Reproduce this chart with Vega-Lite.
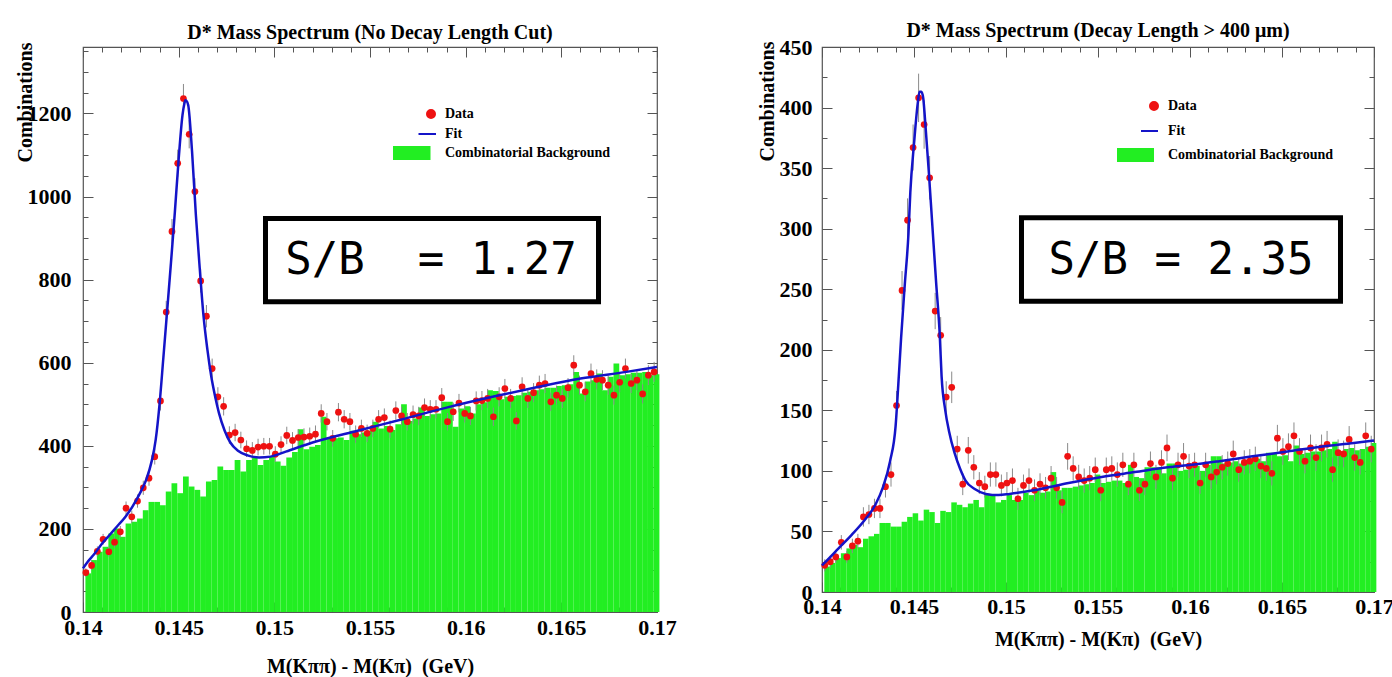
{
  "$schema": "https://vega.github.io/schema/vega-lite/v6.json",
  "background": "white",
  "autosize": {"type": "pad"},
  "padding": {"left": 14, "top": 20, "right": 0, "bottom": 0},
  "spacing": 79,
  "resolve": {"scale": {"color": "independent"}, "legend": {"color": "independent"}},
  "config": {
    "view": {"stroke": "#555555", "strokeWidth": 1.2},
    "axis": {"labelFont": "Liberation Serif", "labelFontWeight": "bold", "labelFontSize": 22, "labelColor": "black", "titleFont": "Liberation Serif", "titleFontWeight": "bold", "titleFontSize": 20, "titleColor": "black", "tickColor": "#555555", "tickWidth": 1, "domain": false, "grid": false, "labelFlush": false, "labelOverlap": false},
    "legend": {"labelFont": "Liberation Serif", "labelFontWeight": "bold", "labelFontSize": 14, "labelColor": "black", "labelLimit": 400},
    "title": {"font": "Liberation Serif", "fontWeight": "bold", "fontSize": 20, "color": "black"}
  },
  "datasets": {
    "left": [
      {"m":0.14015,"d":95,"e":10,"b":93},{"m":0.14045,"d":112,"e":11,"b":125},{"m":0.14075,"d":146,"e":12,"b":145},{"m":0.14105,"d":175,"e":13,"b":157},{"m":0.14135,"d":145,"e":12,"b":189},
      {"m":0.14165,"d":168,"e":13,"b":201},{"m":0.14195,"d":193,"e":14,"b":181},{"m":0.14225,"d":250,"e":16,"b":213},{"m":0.14255,"d":229,"e":15,"b":217},{"m":0.14285,"d":267,"e":16,"b":225},
      {"m":0.14315,"d":299,"e":17,"b":245},{"m":0.14345,"d":322,"e":18,"b":265},{"m":0.14375,"d":374,"e":19,"b":265},{"m":0.14405,"d":508,"e":23,"b":257},{"m":0.14435,"d":722,"e":27,"b":290},
      {"m":0.14465,"d":916,"e":30,"b":310},{"m":0.14495,"d":1080,"e":33,"b":286},{"m":0.14525,"d":1236,"e":35,"b":326},{"m":0.14555,"d":1150,"e":34,"b":302},{"m":0.14585,"d":1012,"e":32,"b":294},
      {"m":0.14615,"d":797,"e":28,"b":278},{"m":0.14645,"d":712,"e":27,"b":314},{"m":0.14675,"d":586,"e":24,"b":318},{"m":0.14705,"d":518,"e":23,"b":350},{"m":0.14735,"d":495,"e":22,"b":342},
      {"m":0.14765,"d":426,"e":21,"b":342},{"m":0.14795,"d":432,"e":21,"b":366},{"m":0.14825,"d":414,"e":20,"b":338},{"m":0.14855,"d":393,"e":20,"b":366},{"m":0.14885,"d":389,"e":20,"b":374},
      {"m":0.14915,"d":397,"e":20,"b":354},{"m":0.14945,"d":399,"e":20,"b":366},{"m":0.14975,"d":399,"e":20,"b":374},{"m":0.15005,"d":380,"e":19,"b":362},{"m":0.15035,"d":403,"e":20,"b":352},
      {"m":0.15065,"d":425,"e":21,"b":372},{"m":0.15095,"d":413,"e":20,"b":385},{"m":0.15125,"d":420,"e":20,"b":440},{"m":0.15155,"d":421,"e":21,"b":392},{"m":0.15185,"d":423,"e":21,"b":398},
      {"m":0.15215,"d":428,"e":21,"b":402},{"m":0.15245,"d":478,"e":22,"b":470},{"m":0.15275,"d":458,"e":21,"b":420},{"m":0.15305,"d":418,"e":20,"b":418},{"m":0.15335,"d":481,"e":22,"b":420},
      {"m":0.15365,"d":464,"e":22,"b":414},{"m":0.15395,"d":458,"e":21,"b":436},{"m":0.15425,"d":428,"e":21,"b":428},{"m":0.15455,"d":442,"e":21,"b":432},{"m":0.15485,"d":430,"e":21,"b":436},
      {"m":0.15515,"d":442,"e":21,"b":458},{"m":0.15545,"d":464,"e":22,"b":442},{"m":0.15575,"d":468,"e":22,"b":448},{"m":0.15605,"d":440,"e":21,"b":438},{"m":0.15635,"d":485,"e":22,"b":452},
      {"m":0.15665,"d":472,"e":22,"b":500},{"m":0.15695,"d":458,"e":21,"b":460},{"m":0.15725,"d":475,"e":22,"b":466},{"m":0.15755,"d":472,"e":22,"b":492},{"m":0.15785,"d":492,"e":22,"b":472},
      {"m":0.15815,"d":488,"e":22,"b":476},{"m":0.15845,"d":488,"e":22,"b":478},{"m":0.15875,"d":516,"e":23,"b":506},{"m":0.15905,"d":458,"e":21,"b":506},{"m":0.15935,"d":482,"e":22,"b":446},
      {"m":0.15965,"d":503,"e":22,"b":490},{"m":0.15995,"d":478,"e":22,"b":495},{"m":0.16025,"d":472,"e":22,"b":478},{"m":0.16055,"d":508,"e":23,"b":500},{"m":0.16085,"d":509,"e":23,"b":505},
      {"m":0.16115,"d":514,"e":23,"b":534},{"m":0.16145,"d":470,"e":22,"b":532},{"m":0.16175,"d":518,"e":23,"b":512},{"m":0.16205,"d":538,"e":23,"b":518},{"m":0.16235,"d":514,"e":23,"b":520},
      {"m":0.16265,"d":460,"e":21,"b":522},{"m":0.16295,"d":542,"e":23,"b":528},{"m":0.16325,"d":514,"e":23,"b":530},{"m":0.16355,"d":528,"e":23,"b":534},{"m":0.16385,"d":546,"e":23,"b":536},
      {"m":0.16415,"d":550,"e":23,"b":540},{"m":0.16445,"d":506,"e":22,"b":540},{"m":0.16475,"d":522,"e":23,"b":544},{"m":0.16505,"d":514,"e":23,"b":546},{"m":0.16535,"d":540,"e":23,"b":548},
      {"m":0.16565,"d":594,"e":24,"b":578},{"m":0.16595,"d":546,"e":23,"b":526},{"m":0.16625,"d":530,"e":23,"b":555},{"m":0.16655,"d":574,"e":24,"b":558},{"m":0.16685,"d":560,"e":24,"b":574},
      {"m":0.16715,"d":558,"e":24,"b":534},{"m":0.16745,"d":546,"e":23,"b":566},{"m":0.16775,"d":522,"e":23,"b":598},{"m":0.16805,"d":553,"e":24,"b":570},{"m":0.16835,"d":586,"e":24,"b":572},
      {"m":0.16865,"d":550,"e":23,"b":576},{"m":0.16895,"d":558,"e":24,"b":576},{"m":0.16925,"d":525,"e":23,"b":578},{"m":0.16955,"d":570,"e":24,"b":570},{"m":0.16985,"d":578,"e":24,"b":572}
    ],
    "leftfit": [
      {"m":0.1400,"f":105},{"m":0.1402,"f":118},{"m":0.1406,"f":140},{"m":0.1410,"f":165},{"m":0.1414,"f":186},{"m":0.1418,"f":207},{"m":0.1422,"f":228},{"m":0.1426,"f":255},{"m":0.1430,"f":288},{"m":0.1433,"f":318},{"m":0.1436,"f":365},{"m":0.1438,"f":415},{"m":0.1440,"f":500},{"m":0.1442,"f":612},{"m":0.1444,"f":726},{"m":0.1446,"f":842},{"m":0.1448,"f":962},{"m":0.1450,"f":1090},{"m":0.1452,"f":1196},{"m":0.1453,"f":1224},{"m":0.14535,"f":1232},{"m":0.1454,"f":1231},{"m":0.1455,"f":1220},{"m":0.1457,"f":1108},{"m":0.1459,"f":955},{"m":0.1461,"f":828},{"m":0.1463,"f":712},{"m":0.1465,"f":632},{"m":0.1467,"f":568},{"m":0.1469,"f":520},{"m":0.1471,"f":480},{"m":0.1474,"f":437},{"m":0.1477,"f":408},{"m":0.1481,"f":388},{"m":0.1486,"f":377},{"m":0.1492,"f":372},{"m":0.1498,"f":374},{"m":0.1506,"f":386},{"m":0.1520,"f":408},{"m":0.1544,"f":437},{"m":0.1567,"f":464},{"m":0.1590,"f":492},{"m":0.1614,"f":518},{"m":0.1637,"f":541},{"m":0.1660,"f":562},{"m":0.1684,"f":578},{"m":0.1700,"f":590}
    ],
    "right": [
      {"m":0.14015,"d":22,"e":5,"b":21},{"m":0.14045,"d":25,"e":5,"b":24},{"m":0.14075,"d":29,"e":5,"b":28},{"m":0.14105,"d":41,"e":6,"b":32},{"m":0.14135,"d":29,"e":5,"b":36},
      {"m":0.14165,"d":38,"e":6,"b":39},{"m":0.14195,"d":42,"e":6,"b":37},{"m":0.14225,"d":62,"e":8,"b":44},{"m":0.14255,"d":64,"e":8,"b":46},{"m":0.14285,"d":69,"e":8,"b":48},
      {"m":0.14315,"d":69,"e":8,"b":57},{"m":0.14345,"d":87,"e":9,"b":57},{"m":0.14375,"d":97,"e":10,"b":54},{"m":0.14405,"d":154,"e":12,"b":54},{"m":0.14435,"d":249,"e":16,"b":58},
      {"m":0.14465,"d":307,"e":18,"b":62},{"m":0.14495,"d":367,"e":19,"b":65},{"m":0.14525,"d":408,"e":20,"b":59},{"m":0.14555,"d":386,"e":20,"b":68},{"m":0.14585,"d":342,"e":18,"b":66},
      {"m":0.14615,"d":232,"e":15,"b":57},{"m":0.14645,"d":212,"e":15,"b":67},{"m":0.14675,"d":161,"e":13,"b":66},{"m":0.14705,"d":169,"e":13,"b":74},{"m":0.14735,"d":118,"e":11,"b":72},
      {"m":0.14765,"d":89,"e":9,"b":70},{"m":0.14795,"d":117,"e":11,"b":73},{"m":0.14825,"d":103,"e":10,"b":76},{"m":0.14855,"d":90,"e":9,"b":70},{"m":0.14885,"d":87,"e":9,"b":81},
      {"m":0.14915,"d":97,"e":10,"b":80},{"m":0.14945,"d":97,"e":10,"b":74},{"m":0.14975,"d":88,"e":9,"b":76},{"m":0.15005,"d":90,"e":9,"b":80},{"m":0.15035,"d":92,"e":10,"b":76},
      {"m":0.15065,"d":77,"e":9,"b":76},{"m":0.15095,"d":88,"e":9,"b":82},{"m":0.15125,"d":92,"e":10,"b":80},{"m":0.15155,"d":84,"e":9,"b":84},{"m":0.15185,"d":89,"e":9,"b":82},
      {"m":0.15215,"d":86,"e":9,"b":83},{"m":0.15245,"d":94,"e":10,"b":99},{"m":0.15275,"d":86,"e":9,"b":84},{"m":0.15305,"d":74,"e":9,"b":86},{"m":0.15335,"d":112,"e":11,"b":86},
      {"m":0.15365,"d":102,"e":10,"b":87},{"m":0.15395,"d":95,"e":10,"b":88},{"m":0.15425,"d":92,"e":10,"b":89},{"m":0.15455,"d":94,"e":10,"b":90},{"m":0.15485,"d":101,"e":10,"b":97},
      {"m":0.15515,"d":84,"e":9,"b":90},{"m":0.15545,"d":101,"e":10,"b":91},{"m":0.15575,"d":102,"e":10,"b":92},{"m":0.15605,"d":97,"e":10,"b":92},{"m":0.15635,"d":105,"e":10,"b":90},
      {"m":0.15665,"d":89,"e":9,"b":105},{"m":0.15695,"d":105,"e":10,"b":95},{"m":0.15725,"d":84,"e":9,"b":94},{"m":0.15755,"d":89,"e":9,"b":103},{"m":0.15785,"d":106,"e":10,"b":103},
      {"m":0.15815,"d":95,"e":10,"b":103},{"m":0.15845,"d":107,"e":10,"b":98},{"m":0.15875,"d":119,"e":11,"b":106},{"m":0.15905,"d":94,"e":10,"b":106},{"m":0.15935,"d":105,"e":10,"b":100},
      {"m":0.15965,"d":112,"e":11,"b":101},{"m":0.15995,"d":104,"e":10,"b":103},{"m":0.16025,"d":105,"e":10,"b":104},{"m":0.16055,"d":90,"e":9,"b":100},{"m":0.16085,"d":105,"e":10,"b":105},
      {"m":0.16115,"d":95,"e":10,"b":112},{"m":0.16145,"d":99,"e":10,"b":112},{"m":0.16175,"d":103,"e":10,"b":106},{"m":0.16205,"d":106,"e":10,"b":107},{"m":0.16235,"d":114,"e":11,"b":108},
      {"m":0.16265,"d":101,"e":10,"b":106},{"m":0.16295,"d":107,"e":10,"b":109},{"m":0.16325,"d":108,"e":10,"b":108},{"m":0.16355,"d":110,"e":10,"b":110},{"m":0.16385,"d":104,"e":10,"b":108},
      {"m":0.16415,"d":102,"e":10,"b":115},{"m":0.16445,"d":98,"e":10,"b":115},{"m":0.16475,"d":127,"e":11,"b":112},{"m":0.16505,"d":116,"e":11,"b":113},{"m":0.16535,"d":120,"e":11,"b":108},
      {"m":0.16565,"d":129,"e":11,"b":121},{"m":0.16595,"d":116,"e":11,"b":114},{"m":0.16625,"d":108,"e":10,"b":115},{"m":0.16655,"d":119,"e":11,"b":116},{"m":0.16685,"d":111,"e":11,"b":116},
      {"m":0.16715,"d":119,"e":11,"b":117},{"m":0.16745,"d":122,"e":11,"b":118},{"m":0.16775,"d":101,"e":10,"b":124},{"m":0.16805,"d":115,"e":11,"b":116},{"m":0.16835,"d":114,"e":11,"b":118},
      {"m":0.16865,"d":126,"e":11,"b":119},{"m":0.16895,"d":111,"e":11,"b":117},{"m":0.16925,"d":107,"e":10,"b":118},{"m":0.16955,"d":129,"e":11,"b":120},{"m":0.16985,"d":118,"e":11,"b":123}
    ],
    "rightfit": [
      {"m":0.1400,"f":22},{"m":0.1402,"f":25},{"m":0.1409,"f":36},{"m":0.1416,"f":47},{"m":0.1423,"f":59},{"m":0.1429,"f":72},{"m":0.1433,"f":86},{"m":0.1437,"f":108},{"m":0.1440,"f":137},{"m":0.14415,"f":172},{"m":0.1443,"f":210},{"m":0.1445,"f":254},{"m":0.1447,"f":296},{"m":0.1448,"f":330},{"m":0.1450,"f":370},{"m":0.1452,"f":403},{"m":0.1453,"f":413},{"m":0.1454,"f":413},{"m":0.1455,"f":408},{"m":0.1456,"f":390},{"m":0.1458,"f":348},{"m":0.1460,"f":302},{"m":0.1462,"f":256},{"m":0.1464,"f":212},{"m":0.1465,"f":178},{"m":0.1467,"f":150},{"m":0.1469,"f":133},{"m":0.1472,"f":115},{"m":0.1475,"f":102},{"m":0.1478,"f":92},{"m":0.1483,"f":85},{"m":0.1489,"f":81},{"m":0.1496,"f":80},{"m":0.1502,"f":81},{"m":0.1515,"f":84},{"m":0.1534,"f":90},{"m":0.1552,"f":95},{"m":0.1570,"f":99},{"m":0.1588,"f":103},{"m":0.1601,"f":105},{"m":0.1616,"f":108},{"m":0.1634,"f":112},{"m":0.1653,"f":116},{"m":0.1671,"f":120},{"m":0.1689,"f":123},{"m":0.1700,"f":125}
    ]
  },
  "hconcat": [
    {
      "width": 574,
      "height": 565,
      "title": {"text": "D* Mass Spectrum (No Decay Length Cut)", "offset": -1},
      "data": {"name": "left"},
      "resolve": {"axis": {"x": "independent", "y": "independent"}},
      "layer": [
        {
          "mark": {"type": "bar", "binSpacing": 0},
          "encoding": {
            "x": {"field": "m", "type": "quantitative", "bin": {"extent": [0.14, 0.17], "step": 0.0003}, "scale": {"domain": [0.14, 0.17], "nice": false, "zero": false},
                  "axis": {"orient": "bottom", "values": [0.14, 0.145, 0.15, 0.155, 0.16, 0.165, 0.17], "format": "~g", "tickSize": -10, "labelPadding": 15, "title": "M(Kππ) - M(Kπ)\u00a0 (GeV)", "titlePadding": 18}},
            "y": {"field": "b", "type": "quantitative", "aggregate": "sum", "stack": null, "scale": {"domain": [0, 1360], "nice": false},
                  "axis": {"orient": "left", "values": [0, 200, 400, 600, 800, 1000, 1200], "format": "d", "tickSize": -10, "labelPadding": 22, "title": "Combinations", "titleAnchor": "end", "titleY": -5, "titlePadding": -8}},
            "color": {"datum": "Combinatorial Background", "type": "nominal",
                      "scale": {"domain": ["Data", "Fit", "Combinatorial Background"], "range": ["#ee1111", "#1414c8", "#22ee22"]},
                      "legend": {"title": null, "orient": "none", "legendX": 332, "legendY": 56, "padding": 0, "symbolSize": 400, "rowPadding": 1, "labelOffset": 8,
                                 "encode": {"symbols": {"update": {
                                   "shape": {"signal": "datum.value === 'Data' ? 'M0.1,0A0.4,0.4,0,1,0,0.9,0A0.4,0.4,0,1,0,0.1,0Z' : datum.value === 'Fit' ? 'M-0.75,0L1,0' : 'M-3.2,-0.6L0.35,-0.6L0.35,0.6L-3.2,0.6Z'"},
                                   "fill": {"signal": "datum.value === 'Fit' ? 'transparent' : datum.value === 'Data' ? '#ee1111' : '#22ee22'"},
                                   "stroke": {"signal": "datum.value === 'Fit' ? '#3a3aff' : 'transparent'"},
                                   "strokeWidth": {"value": 2},
                                   "opacity": {"value": 1}
                                 }}}}}
          }
        },
        {
          "mark": {"type": "errorbar", "color": "#8a8a8a", "thickness": 1},
          "encoding": {
            "x": {"field": "m", "type": "quantitative", "axis": {"orient": "top", "values": [0.14, 0.145, 0.15, 0.155, 0.16, 0.165, 0.17], "labels": false, "tickSize": -10, "title": null}},
            "y": {"field": "d", "type": "quantitative", "axis": {"orient": "right", "values": [0, 200, 400, 600, 800, 1000, 1200], "labels": false, "tickSize": -10, "title": null}},
            "yError": {"field": "e"}
          }
        },
        {
          "mark": {"type": "circle", "size": 45, "opacity": 1},
          "encoding": {
            "x": {"field": "m", "type": "quantitative", "axis": {"orient": "bottom", "values": [0.141,0.142,0.143,0.144,0.146,0.147,0.148,0.149,0.151,0.152,0.153,0.154,0.156,0.157,0.158,0.159,0.161,0.162,0.163,0.164,0.166,0.167,0.168,0.169], "labels": false, "tickSize": -5, "title": null}},
            "y": {"field": "d", "type": "quantitative", "axis": {"orient": "left", "values": [50,100,150,250,300,350,450,500,550,650,700,750,850,900,950,1050,1100,1150,1250,1300,1350], "labels": false, "tickSize": -5, "title": null}},
            "color": {"datum": "Data", "type": "nominal"}
          }
        },
        {
          "data": {"name": "leftfit"},
          "mark": {"type": "line", "strokeWidth": 2.5, "interpolate": "monotone"},
          "encoding": {
            "x": {"field": "m", "type": "quantitative", "axis": {"orient": "top", "values": [0.141,0.142,0.143,0.144,0.146,0.147,0.148,0.149,0.151,0.152,0.153,0.154,0.156,0.157,0.158,0.159,0.161,0.162,0.163,0.164,0.166,0.167,0.168,0.169], "labels": false, "tickSize": -5, "title": null}},
            "y": {"field": "f", "type": "quantitative", "axis": {"orient": "right", "values": [50,100,150,250,300,350,450,500,550,650,700,750,850,900,950,1050,1100,1150,1250,1300,1350], "labels": false, "tickSize": -5, "title": null}},
            "color": {"datum": "Fit", "type": "nominal"}
          }
        },
        {
          "data": {"values": [{"t": "S/B\u00a0 = 1.27"}]},
          "mark": {"type": "rect", "fill": "white", "stroke": "black", "strokeWidth": 5},
          "encoding": {
            "x": {"datum": 0.149538, "type": "quantitative", "axis": null},
            "x2": {"datum": 0.166943},
            "y": {"datum": 947, "type": "quantitative", "axis": null},
            "y2": {"datum": 747}
          }
        },
        {
          "data": {"values": [{"t": "S/B\u00a0 = 1.27"}]},
          "mark": {"type": "text", "font": "DejaVu Sans Mono", "fontSize": 44, "color": "black", "align": "center", "baseline": "middle"},
          "encoding": {
            "x": {"datum": 0.15819, "type": "quantitative", "axis": null},
            "y": {"datum": 845, "type": "quantitative", "axis": null},
            "text": {"field": "t"}
          }
        }
      ]
    },
    {
      "width": 552,
      "height": 545,
      "title": {"text": "D* Mass Spectrum (Decay Length > 400 μm)", "offset": -5},
      "data": {"name": "right"},
      "resolve": {"axis": {"x": "independent", "y": "independent"}},
      "layer": [
        {
          "mark": {"type": "bar", "binSpacing": 0},
          "encoding": {
            "x": {"field": "m", "type": "quantitative", "bin": {"extent": [0.14, 0.17], "step": 0.0003}, "scale": {"domain": [0.14, 0.17], "nice": false, "zero": false},
                  "axis": {"orient": "bottom", "values": [0.14, 0.145, 0.15, 0.155, 0.16, 0.165, 0.17], "format": "~g", "tickSize": -10, "labelPadding": 14, "title": "M(Kππ) - M(Kπ)\u00a0 (GeV)", "titlePadding": 12}},
            "y": {"field": "b", "type": "quantitative", "aggregate": "sum", "stack": null, "scale": {"domain": [0, 450], "nice": false},
                  "axis": {"orient": "left", "values": [0, 50, 100, 150, 200, 250, 300, 350, 400, 450], "format": "d", "tickSize": -10, "labelPadding": 20, "title": "Combinations", "titleAnchor": "end", "titleY": -6, "titlePadding": 2}},
            "color": {"datum": "Combinatorial Background", "type": "nominal",
                      "scale": {"domain": ["Data", "Fit", "Combinatorial Background"], "range": ["#ee1111", "#1414c8", "#22ee22"]},
                      "legend": {"title": null, "orient": "none", "legendX": 316, "legendY": 48, "padding": 0, "symbolSize": 400, "rowPadding": 6, "labelOffset": 8,
                                 "encode": {"symbols": {"update": {
                                   "shape": {"signal": "datum.value === 'Data' ? 'M0.1,0A0.4,0.4,0,1,0,0.9,0A0.4,0.4,0,1,0,0.1,0Z' : datum.value === 'Fit' ? 'M-0.8,0L0.9,0' : 'M-3.1,-0.6L0.4,-0.6L0.4,0.6L-3.1,0.6Z'"},
                                   "fill": {"signal": "datum.value === 'Fit' ? 'transparent' : datum.value === 'Data' ? '#ee1111' : '#22ee22'"},
                                   "stroke": {"signal": "datum.value === 'Fit' ? '#3a3aff' : 'transparent'"},
                                   "strokeWidth": {"value": 2},
                                   "opacity": {"value": 1}
                                 }}}}}
          }
        },
        {
          "mark": {"type": "errorbar", "color": "#8a8a8a", "thickness": 1},
          "encoding": {
            "x": {"field": "m", "type": "quantitative", "axis": {"orient": "top", "values": [0.14, 0.145, 0.15, 0.155, 0.16, 0.165, 0.17], "labels": false, "tickSize": -10, "title": null}},
            "y": {"field": "d", "type": "quantitative", "axis": {"orient": "right", "values": [0, 50, 100, 150, 200, 250, 300, 350, 400, 450], "labels": false, "tickSize": -10, "title": null}},
            "yError": {"field": "e"}
          }
        },
        {
          "mark": {"type": "circle", "size": 45, "opacity": 1},
          "encoding": {
            "x": {"field": "m", "type": "quantitative", "axis": {"orient": "bottom", "values": [0.141,0.142,0.143,0.144,0.146,0.147,0.148,0.149,0.151,0.152,0.153,0.154,0.156,0.157,0.158,0.159,0.161,0.162,0.163,0.164,0.166,0.167,0.168,0.169], "labels": false, "tickSize": -5, "title": null}},
            "y": {"field": "d", "type": "quantitative", "axis": {"orient": "left", "values": [25,75,125,175,225,275,325,375,425], "labels": false, "tickSize": -5, "title": null}},
            "color": {"datum": "Data", "type": "nominal"}
          }
        },
        {
          "data": {"name": "rightfit"},
          "mark": {"type": "line", "strokeWidth": 2.5, "interpolate": "monotone"},
          "encoding": {
            "x": {"field": "m", "type": "quantitative", "axis": {"orient": "top", "values": [0.141,0.142,0.143,0.144,0.146,0.147,0.148,0.149,0.151,0.152,0.153,0.154,0.156,0.157,0.158,0.159,0.161,0.162,0.163,0.164,0.166,0.167,0.168,0.169], "labels": false, "tickSize": -5, "title": null}},
            "y": {"field": "f", "type": "quantitative", "axis": {"orient": "right", "values": [25,75,125,175,225,275,325,375,425], "labels": false, "tickSize": -5, "title": null}},
            "color": {"datum": "Fit", "type": "nominal"}
          }
        },
        {
          "data": {"values": [{"t": "S/B = 2.35"}]},
          "mark": {"type": "rect", "fill": "white", "stroke": "black", "strokeWidth": 5},
          "encoding": {
            "x": {"datum": 0.150842, "type": "quantitative", "axis": null},
            "x2": {"datum": 0.168179},
            "y": {"datum": 309, "type": "quantitative", "axis": null},
            "y2": {"datum": 240}
          }
        },
        {
          "data": {"values": [{"t": "S/B = 2.35"}]},
          "mark": {"type": "text", "font": "DejaVu Sans Mono", "fontSize": 44, "color": "black", "align": "center", "baseline": "middle"},
          "encoding": {
            "x": {"datum": 0.15951, "type": "quantitative", "axis": null},
            "y": {"datum": 273, "type": "quantitative", "axis": null},
            "text": {"field": "t"}
          }
        }
      ]
    }
  ]
}
